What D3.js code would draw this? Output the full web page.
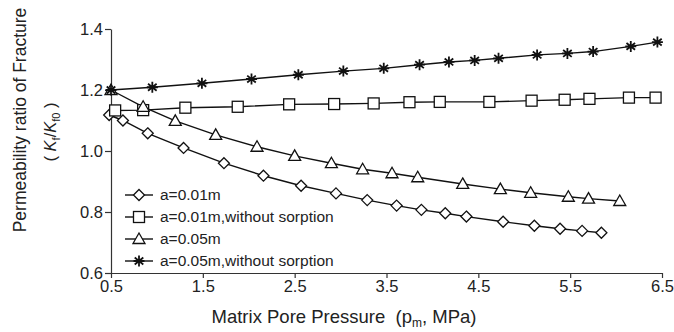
<!DOCTYPE html>
<html><head><meta charset="utf-8">
<script src="https://cdn.jsdelivr.net/npm/d3@7"></script>
<style>body{margin:0;background:#fff}svg{display:block}text{font-family:"Liberation Sans",Arial,sans-serif;fill:#222}</style>
</head><body><svg id="c" width="674" height="332"></svg>
<script>
const xTicks = [0.5, 1.5, 2.5, 3.5, 4.5, 5.5, 6.5];
const yTicks = [0.6, 0.8, 1.0, 1.2, 1.4];
const seriesNames = ["a=0.01m", "a=0.01m,without sorption", "a=0.05m", "a=0.05m,without sorption"];
const seriesSymbols = ["diamond", "square", "triangle", "star"];

const diamondX = [0.48, 0.63, 0.90, 1.29, 1.73, 2.16, 2.57, 2.95, 3.29, 3.61, 3.88, 4.14, 4.37, 4.77, 5.11, 5.39, 5.63, 5.84];
const diamondY = [1.118, 1.100, 1.058, 1.010, 0.960, 0.919, 0.886, 0.861, 0.839, 0.821, 0.807, 0.796, 0.785, 0.768, 0.755, 0.745, 0.738, 0.732];

const squareX = [0.545, 0.85, 1.31, 1.88, 2.44, 2.93, 3.36, 3.75, 4.08, 4.62, 5.08, 5.44, 5.71, 6.14, 6.43];
const squareY = [1.133, 1.134, 1.142, 1.145, 1.153, 1.154, 1.156, 1.160, 1.161, 1.161, 1.165, 1.168, 1.171, 1.175, 1.175];

const triangleX = [0.50, 0.85, 1.20, 1.64, 2.09, 2.50, 2.90, 3.24, 3.56, 3.84, 4.33, 4.74, 5.07, 5.48, 5.70, 6.04];
const triangleY = [1.200, 1.145, 1.099, 1.053, 1.014, 0.984, 0.960, 0.940, 0.927, 0.914, 0.892, 0.875, 0.863, 0.850, 0.844, 0.836];

const starX = [0.50, 0.95, 1.49, 2.03, 2.54, 3.03, 3.47, 3.86, 4.18, 4.46, 4.72, 5.14, 5.47, 5.75, 6.16, 6.45];
const starY = [1.200, 1.209, 1.222, 1.236, 1.250, 1.262, 1.271, 1.283, 1.292, 1.297, 1.304, 1.315, 1.320, 1.326, 1.343, 1.357];

const allX = [diamondX, squareX, triangleX, starX];
const allY = [diamondY, squareY, triangleY, starY];

const svg = d3.select("#c");
const x = d3.scaleLinear().domain([0.5, 6.5]).range([111, 662]);
const y = d3.scaleLinear().domain([0.6, 1.4]).range([273, 29]);

// axes
const xAxis = svg.append("g").attr("transform", "translate(0,273)")
  .call(d3.axisBottom(x).tickValues(xTicks).tickFormat(d3.format(".1f")).tickSize(5).tickSizeOuter(0));
const yAxis = svg.append("g").attr("transform", "translate(111,0)")
  .call(d3.axisLeft(y).tickValues(yTicks).tickFormat(d3.format(".1f")).tickSize(6).tickSizeOuter(0));
[xAxis, yAxis].forEach(a => {
  a.selectAll("path,line").attr("stroke", "#333").attr("stroke-width", 1.2);
  a.selectAll("text").attr("font-size", 16.5).attr("fill", "#222").attr("font-family", "Liberation Sans, Arial, sans-serif");
});
xAxis.selectAll("text").attr("dy", "0.95em").attr("y", 3);
yAxis.selectAll("text").attr("x", -8);

// symbol drawing
function drawSymbol(g, type, cx, cy) {
  const s = g.append("g").attr("transform", `translate(${cx},${cy})`);
  if (type === "diamond") {
    s.append("path").attr("d", "M0,-5.5L5.5,0L0,5.5L-5.5,0Z").attr("fill", "#fff").attr("stroke", "#111").attr("stroke-width", 1.3);
  } else if (type === "square") {
    s.append("rect").attr("x", -5.5).attr("y", -5.5).attr("width", 11).attr("height", 11).attr("fill", "#fff").attr("stroke", "#111").attr("stroke-width", 1.3);
  } else if (type === "triangle") {
    s.append("path").attr("d", "M0,-6L6,4.5L-6,4.5Z").attr("fill", "#fff").attr("stroke", "#111").attr("stroke-width", 1.3);
  } else {
    const r = 5.5, d = 4.3;
    s.append("path").attr("d", `M0,${-r}L0,${r}M${-d},${-d * 0.8}L${d},${d * 0.8}M${-d},${d * 0.8}L${d},${-d * 0.8}M${-r},0L${r},0`)
      .attr("stroke", "#111").attr("stroke-width", 1.8).attr("fill", "none");
  }
}

const line = d3.line().x(d => x(d[0])).y(d => y(d[1]));
const plot = svg.append("g");
allX.forEach((xs, i) => {
  const pts = xs.map((v, j) => [v, allY[i][j]]);
  plot.append("path").datum(pts).attr("d", line).attr("fill", "none").attr("stroke", "#111").attr("stroke-width", 1.4);
});
allX.forEach((xs, i) => {
  xs.forEach((v, j) => drawSymbol(plot, seriesSymbols[i], x(v), y(allY[i][j])));
});

// legend
const lg = svg.append("g");
seriesNames.forEach((name, i) => {
  const ly = 195 + i * 22;
  lg.append("line").attr("x1", 125).attr("x2", 153).attr("y1", ly).attr("y2", ly).attr("stroke", "#111").attr("stroke-width", 1.4);
  drawSymbol(lg, seriesSymbols[i], 139, ly);
  lg.append("text").attr("x", 160).attr("y", ly).attr("dy", "0.35em").attr("font-size", 15.5).text(name);
});

// x title
const xt = svg.append("text").attr("x", 344).attr("y", 323).attr("text-anchor", "middle").attr("font-size", 18.5);
xt.append("tspan").text("Matrix Pore Pressure\u00a0 (p");
xt.append("tspan").attr("font-size", 12).attr("dy", 4).text("m");
xt.append("tspan").attr("dy", -4).text(", MPa)");

// y title
const yt = svg.append("text").attr("transform", "translate(26,120) rotate(-90)").attr("text-anchor", "middle").attr("font-size", 17.5).text("Permeability ratio of Fracture");
const yt2 = svg.append("text").attr("transform", "translate(56,132) rotate(-90)").attr("text-anchor", "middle").attr("font-size", 16.5);
yt2.append("tspan").text("(\u00a0");
yt2.append("tspan").attr("font-style", "italic").text("K");
yt2.append("tspan").attr("font-size", 11).attr("dy", 4).text("f");
yt2.append("tspan").attr("dy", -4).text("/");
yt2.append("tspan").attr("font-style", "italic").text("K");
yt2.append("tspan").attr("font-size", 11).attr("dy", 4).text("f0");
yt2.append("tspan").attr("dy", -4).text("\u00a0)");
</script></body></html>
